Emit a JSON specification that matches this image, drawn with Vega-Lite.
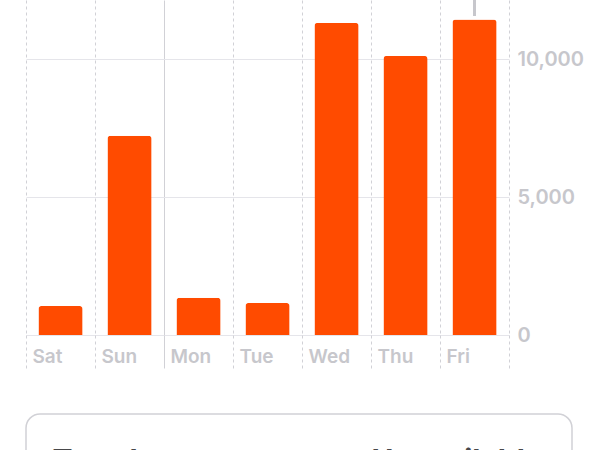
{
  "$schema": "https://vega.github.io/schema/vega-lite/v6.json",
  "background": "white",
  "padding": {"left": 25, "top": -2, "right": 0, "bottom": 0},
  "bounds": "flush",
  "spacing": 79,
  "config": {
    "font": "Inter",
    "view": {"stroke": null}
  },
  "vconcat": [
    {
      "width": 483,
      "height": 335,
      "data": {
        "values": [
          {"day": "Sat", "steps": 1050},
          {"day": "Sun", "steps": 7230},
          {"day": "Mon", "steps": 1350},
          {"day": "Tue", "steps": 1160},
          {"day": "Wed", "steps": 11320},
          {"day": "Thu", "steps": 10120},
          {"day": "Fri", "steps": 11440}
        ]
      },
      "layer": [
        {
          "mark": {
            "type": "bar",
            "color": "#ff4b00",
            "width": {"band": 0.64},
            "cornerRadiusTopLeft": 3,
            "cornerRadiusTopRight": 3
          },
          "encoding": {
            "x": {
              "field": "day",
              "type": "nominal",
              "scale": {
                "domain": ["Sat", "Sun", "Mon", "Tue", "Wed", "Thu", "Fri"],
                "paddingInner": 0,
                "paddingOuter": 0
              },
              "axis": {
                "title": null,
                "orient": "bottom",
                "domain": false,
                "tickBand": "extent",
                "ticks": true,
                "tickSize": 33,
                "tickColor": "#d1d1d6",
                "tickDash": {"condition": {"test": "datum.value === 'Sun'", "value": []}, "value": [3, 3]},
                "grid": true,
                "gridColor": "#d1d1d6",
                "gridDash": {"condition": {"test": "datum.value === 'Sun'", "value": []}, "value": [3, 3]},
                "labelAngle": 0,
                "labelAlign": "left",
                "labelBaseline": "middle",
                "labelPadding": -12,
                "labelOffset": -28.5,
                "labelFontSize": 19,
                "labelFontWeight": 600,
                "labelColor": "#c7c7cc"
              }
            },
            "y": {
              "field": "steps",
              "type": "quantitative",
              "scale": {"domain": [0, 12150], "nice": false},
              "axis": {
                "title": null,
                "orient": "right",
                "values": [0, 5000, 10000],
                "format": ",d",
                "domain": false,
                "ticks": false,
                "grid": true,
                "gridColor": "#e5e5ea",
                "labelPadding": 8,
                "labelFlush": false,
                "labelOverlap": false,
                "labelFontSize": 20,
                "labelFontWeight": 600,
                "labelColor": "#c7c7cc",
                "labelBaseline": "middle"
              }
            }
          }
        },
        {
          "data": {"values": [{"day": "Fri", "from": 12150, "to": 11570}]},
          "mark": {"type": "rule", "color": "#c7c7cc", "strokeWidth": 3},
          "encoding": {
            "x": {"field": "day", "type": "nominal"},
            "y": {"field": "from", "type": "quantitative"},
            "y2": {"field": "to"}
          }
        }
      ]
    },
    {
      "width": 546,
      "height": 95,
      "view": {"stroke": "#d1d1d6", "strokeWidth": 1.5, "cornerRadius": 14},
      "data": {
        "values": [
          {"side": "left", "label": "Trends"},
          {"side": "right", "label": "Unavailable"}
        ]
      },
      "layer": [
        {
          "transform": [{"filter": "datum.side === 'left'"}],
          "mark": {"type": "text", "align": "left", "baseline": "middle", "dx": -110, "fontSize": 30, "fontWeight": "bold", "color": "#48484a"},
          "encoding": {
            "x": {
              "field": "side",
              "type": "nominal",
              "scale": {"domain": ["left", "right"], "paddingInner": 0, "paddingOuter": 0},
              "axis": null
            },
            "text": {"field": "label"}
          }
        },
        {
          "transform": [{"filter": "datum.side === 'right'"}],
          "mark": {"type": "text", "align": "left", "baseline": "middle", "dx": -64, "fontSize": 30, "fontWeight": "bold", "color": "#48484a"},
          "encoding": {
            "x": {
              "field": "side",
              "type": "nominal",
              "scale": {"domain": ["left", "right"], "paddingInner": 0, "paddingOuter": 0},
              "axis": null
            },
            "text": {"field": "label"}
          }
        }
      ]
    }
  ]
}
